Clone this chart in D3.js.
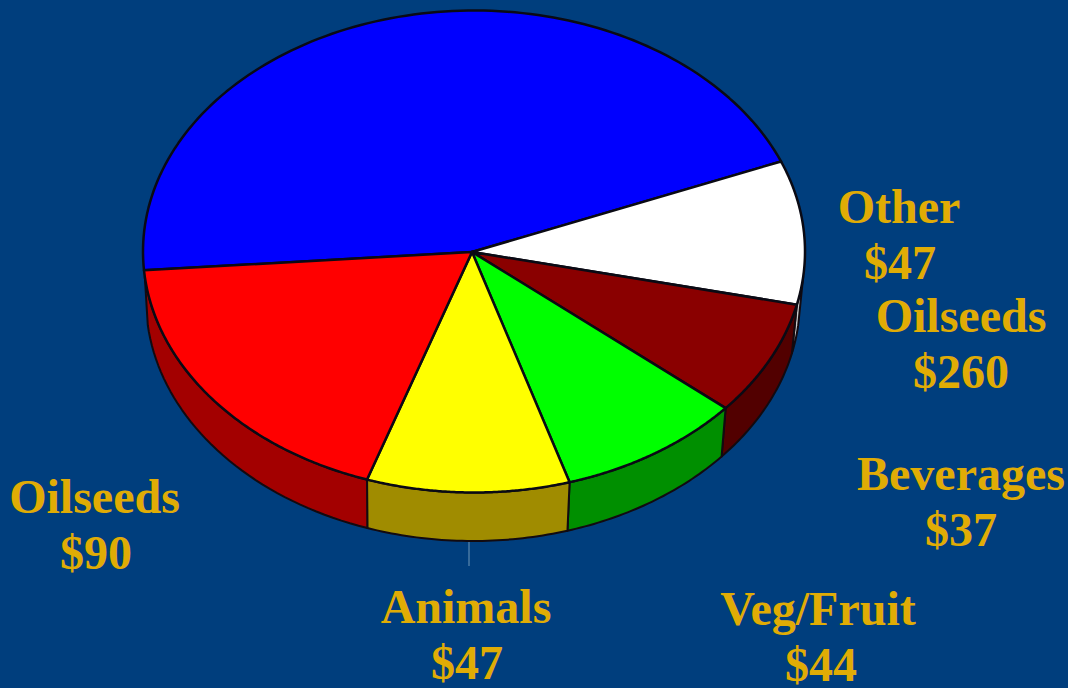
<!DOCTYPE html>
<html>
<head>
<meta charset="utf-8">
<script src="https://cdn.jsdelivr.net/npm/d3@7/dist/d3.min.js"></script>
<style>
  html, body { margin: 0; padding: 0; background: #003e7d; overflow: hidden; }
  text { font-family: "Liberation Serif", serif; font-weight: bold; font-size: 48px; fill: #e0ac05; text-anchor: middle; }
</style>
</head>
<body>
<svg id="chart" width="1068" height="688"></svg>
<script>
// Crop values, in dollars
const categories = ["Oilseeds", "Other", "Beverages", "Veg/Fruit", "Animals", "Oilseeds"];
const values = [260, 47, 37, 44, 47, 90];

// Face and wall colours, one per slice
const faceColors = ["#0000ff", "#ffffff", "#8a0000", "#00ff00", "#ffff00", "#ff0000"];
const wallColors = ["#00009a", "#c9c9c9", "#520000", "#008f00", "#a08c00", "#a30000"];

// Centre of each name and dollar amount, and the baseline of the name
const labelAnchors = [[961, 332], [899, 223], [961, 490], [818, 625], [466, 623], [94.5, 513]];
const amountCentres = [961, 900, 961, 821, 467, 96];
const lineGap = 56;

const face = { cx: 474, cy: 251.5, rx: 331, ry: 241, hubX: 472, hubY: 252 };
const base = { cx: 473, cy: 300, rx: 327, ry: 241 };
const deg = Math.PI / 180;

// Viewing the disc from the front stretches near slices and squeezes far ones
const foreshorten = a => a
  - 8 * deg * Math.sin(a)
  + 2.2 * deg * Math.sin(2 * a - 170 * deg)
  + 1.6 * deg * Math.exp(-(((a - 196 * deg) / (25 * deg)) ** 2));

const pie = d3.pie().sort(null).startAngle(-101.8 * deg).endAngle(258.2 * deg);
const slices = pie(values).map((s, i) => ({
  ...s,
  i,
  a0: foreshorten(s.startAngle),
  a1: foreshorten(s.endAngle)
}));

const svg = d3.select("#chart");
const onEllipse = (e, a) => [e.cx + e.rx * Math.sin(a), e.cy - e.ry * Math.cos(a)];
const sweep = (from, to, n) => d3.range(0, n + 1).map(k => from + (to - from) * k / n);
const line = d3.line();

// The wall is only seen along the front of the disc
const wallFrom = 96 * deg, wallTo = 264 * deg;

const wallPath = s => {
  const from = Math.max(s.a0, wallFrom), to = Math.min(s.a1, wallTo);
  if (to <= from) return null;
  const steps = sweep(from, to, 40);
  const top = steps.map(a => onEllipse(face, a));
  const bottom = steps.slice().reverse().map(a => onEllipse(base, a));
  return line(top.concat(bottom)) + "Z";
};

const facePath = s => {
  const rim = sweep(s.a0, s.a1, 120).map(a => onEllipse(face, a));
  return line([[face.hubX, face.hubY], ...rim]) + "Z";
};

svg.append("line")
  .attr("x1", 469).attr("x2", 469)
  .attr("y1", 541).attr("y2", 566)
  .attr("stroke", "#6f97b8").attr("stroke-width", 1);

svg.append("g").selectAll("path")
  .data(slices.filter(s => wallPath(s)))
  .join("path")
  .attr("d", wallPath)
  .attr("fill", s => wallColors[s.i])
  .attr("stroke", "#120a10")
  .attr("stroke-width", 2)
  .attr("stroke-linejoin", "round");

svg.append("g").selectAll("path")
  .data(slices)
  .join("path")
  .attr("d", facePath)
  .attr("fill", s => faceColors[s.i])
  .attr("stroke", "#0a0a14")
  .attr("stroke-width", 2.5)
  .attr("stroke-linejoin", "round");

const labels = svg.append("g").selectAll("text")
  .data(categories.map((name, i) => ({ name, value: values[i], at: labelAnchors[i], mid: amountCentres[i] })))
  .join("text")
  .attr("x", d => d.at[0])
  .attr("y", d => d.at[1]);

labels.append("tspan").text(d => d.name);
labels.append("tspan")
  .attr("x", d => d.mid)
  .attr("dy", lineGap)
  .text(d => "$" + d.value);
</script>
</body>
</html>
